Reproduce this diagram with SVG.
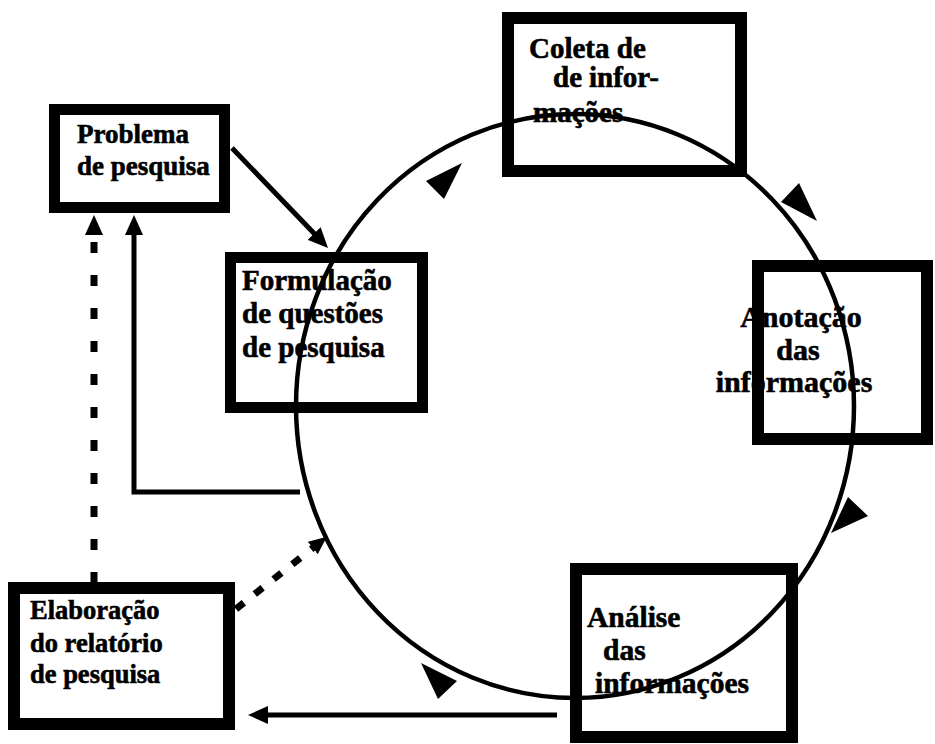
<svg xmlns="http://www.w3.org/2000/svg" width="935" height="744" viewBox="0 0 935 744">
<style>
.box{fill:#fff;stroke:#000}
.t{font-family:"Liberation Serif","Times New Roman",serif;font-weight:bold;fill:#000;stroke:#000;stroke-width:0.6}
.ln{fill:none;stroke:#000;stroke-width:5}
.dash{fill:none;stroke:#000;stroke-width:7}
.tri{fill:#000}
</style>
<defs>
<marker id="ah" viewBox="0 0 20 18" refX="8" refY="9" markerWidth="20" markerHeight="18" markerUnits="userSpaceOnUse" orient="auto"><path d="M0,0 L20,9 L0,18 z" fill="#000"/></marker>
<marker id="ahs" viewBox="0 0 18 16" refX="8" refY="8" markerWidth="18" markerHeight="16" markerUnits="userSpaceOnUse" orient="auto"><path d="M0,0 L18,8 L0,16 z" fill="#000"/></marker>
</defs>
<rect width="935" height="744" fill="#fff"/>

<g id="problema">
<rect class="box" x="54.5" y="109.5" width="170" height="98" stroke-width="11"/>
<text class="t" font-size="27" x="77" y="143">Problema</text>
<text class="t" font-size="27" x="77" y="175">de pesquisa</text>
</g>

<g id="coleta">
<rect class="box" x="508" y="18" width="233" height="153" stroke-width="12"/>
<text class="t" font-size="29" x="529" y="58">Coleta de</text>
<text class="t" font-size="29" y="87"><tspan x="553">de</tspan><tspan x="589">infor-</tspan></text>
<text class="t" font-size="29" x="533" y="122">mações</text>
</g>

<g id="anotacao">
<rect class="box" x="758" y="266" width="169" height="173" stroke-width="12"/>
<text class="t" font-size="30" text-anchor="middle" x="801" y="327">Anotação</text>
<text class="t" font-size="30" text-anchor="middle" x="798" y="360">das</text>
<text class="t" font-size="30" text-anchor="middle" x="794" y="392">informações</text>
</g>

<g id="analise">
<rect class="box" x="576" y="569" width="216" height="168" stroke-width="12"/>
<text class="t" font-size="29.5" x="587" y="627">Análise</text>
<text class="t" font-size="29.5" x="603" y="660">das</text>
<text class="t" font-size="29.5" x="595" y="693">informações</text>
</g>

<g id="elaboracao">
<rect class="box" x="14" y="588" width="215" height="136" stroke-width="12"/>
<text class="t" font-size="26.5" x="30" y="619">Elaboração</text>
<text class="t" font-size="26.5" x="30" y="652">do relatório</text>
<text class="t" font-size="26.5" x="30" y="683">de pesquisa</text>
</g>

<g id="formulacao">
<rect class="box" x="230.5" y="257.5" width="192" height="150" stroke-width="11"/>
<text class="t" font-size="29" x="242" y="290">Formulação</text>
<text class="t" font-size="29" x="242" y="323">de questões</text>
<text class="t" font-size="29" x="242" y="357">de pesquisa</text>
</g>

<g id="connectors">
<ellipse cx="575" cy="406" rx="279" ry="292" fill="none" stroke="#000" stroke-width="4.5"/>
<polygon class="tri" points="426,181 462,163 444,199"/>
<polygon class="tri" points="781,202 799,183 817,221"/>
<polygon class="tri" points="831,533 848,497 868,516"/>
<polygon class="tri" points="421,663 457,681 438,699"/>
<path class="ln" stroke-width="4" d="M232,148 L319.7,239.3" marker-end="url(#ah)"/>
<path class="ln" d="M300,492 H134 V227" marker-end="url(#ah)"/>
<path class="dash" d="M94,583 V227" stroke-dasharray="11 22" marker-end="url(#ah)"/>
<path class="dash" d="M236,609 L319,543" stroke-dasharray="10 14" marker-end="url(#ahs)"/>
<path class="ln" d="M557,715 H260" marker-end="url(#ah)"/>
</g>
</svg>
